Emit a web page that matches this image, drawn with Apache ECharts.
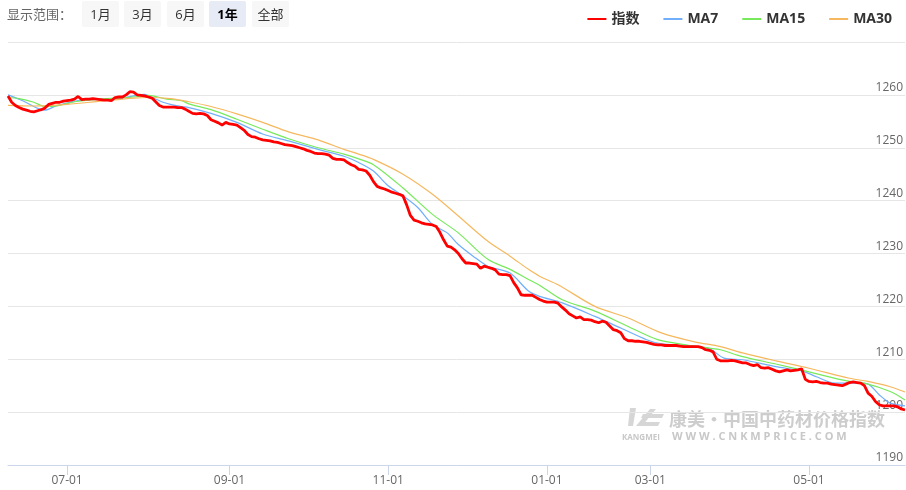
<!DOCTYPE html>
<html>
<head>
<meta charset="utf-8">
<script src="https://cdn.jsdelivr.net/npm/echarts@6/dist/echarts.min.js"></script>
<style>
  html, body { margin: 0; padding: 0; background: #fff; }
  #wrap { position: relative; width: 906px; height: 490px; overflow: hidden; }
  #chart { position: absolute; left: 0; top: 0; width: 906px; height: 490px; }
  #range { position: absolute; left: 0; top: 1px; height: 26px; font-family: "Open Sans", "Noto Sans CJK SC", sans-serif; font-size: 13px; }
  #range .lbl { position: absolute; left: 7px; top: 0; line-height: 26px; color: #666; white-space: nowrap; }
  #range .btn { position: absolute; top: 0; width: 37px; height: 26px; line-height: 26px; text-align: center; background: #f7f7f7; color: #333; border-radius: 2px; }
  #range .btn.on { background: #e6ebf5; font-weight: bold; color: #000; }
</style>
</head>
<body>
<div id="wrap">
  <div id="chart"></div>
  <div id="range">
    <span class="lbl">显示范围：</span>
    <span class="btn" style="left:82px">1月</span>
    <span class="btn" style="left:124px">3月</span>
    <span class="btn" style="left:167px">6月</span>
    <span class="btn on" style="left:209px">1年</span>
    <span class="btn" style="left:252px">全部</span>
  </div>
</div>
<script>
// Publishing days, grouped by month
const months = ['2023-06','2023-07','2023-08','2023-09','2023-10','2023-11','2023-12','2024-01','2024-02','2024-03','2024-04','2024-05','2024-06'];
const monthDays = [
  [8,9,12,13,14,15,16,19,20,21,25,26,27,28,29,30],
  [1,4,5,6,7,10,11,12,13,14,17,18,19,20,21,24,25,26,27,28,31],
  [1,2,3,4,7,8,9,10,11,14,15,16,17,18,21,22,23,24,25,28,29,30,31],
  [1,4,5,6,7,8,11,12,13,14,15,18,19,20,21,22,25,26,27,28,29],
  [2,3,4,5,6,9,10,11,12,13,16,17,18,19,20,23,24,25,26,27,30,31],
  [1,2,3,6,7,8,9,10,13,14,15,16,17,20,21,22,23,24,27,28,29,30],
  [1,4,5,6,7,8,11,12,13,14,15,18,19,20,21,22,25,26,27,28,29],
  [1,3,5,8,10,12,15,17,19,22,24,26,29,31],
  [1,2,5,6,7,8,19,20,21,22,23,26,27,28],
  [1,4,5,6,7,8,11,12,13,14,15,18,19,20,21,22,25,26,27,28,29],
  [1,2,3,4,5,8,9,10,11,12,15,16,17,18,19,22,23,24,25,26,29,30],
  [1,2,3,6,7,8,9,10,13,14,15,16,17,20,21,22,23,24,27,28,29,30,31],
  [3,4,5,6]
];

// Dates that carry an axis label
const tickDates = ['2023-07-01','2023-09-01','2023-11-01','2024-01-01','2024-03-01','2024-05-01'];

// Daily index values
const indexValues = [
  1259.8,1258.6,1258.0,1257.6,1257.3,1257.1,1256.9,1256.8,1257.0,1257.2,
  1257.5,1258.2,1258.4,1258.6,1258.6,1258.8,1258.9,1259.0,1259.2,1259.7,
  1259.1,1259.2,1259.2,1259.3,1259.2,1259.1,1259.0,1259.0,1258.9,1259.5,
  1259.6,1259.6,1260.0,1260.6,1260.5,1260.0,1259.9,1259.8,1259.6,1259.4,
  1258.7,1258.0,1257.7,1257.7,1257.7,1257.7,1257.6,1257.6,1257.3,1256.9,
  1256.5,1256.4,1256.5,1256.4,1256.1,1255.3,1255.0,1254.7,1254.3,1254.8,
  1254.5,1254.4,1254.3,1253.8,1253.3,1252.5,1252.1,1252.0,1251.7,1251.5,
  1251.4,1251.3,1251.1,1251.0,1250.8,1250.6,1250.5,1250.4,1250.2,1250.0,
  1249.8,1249.5,1249.3,1249.0,1248.9,1248.9,1248.8,1248.6,1248.0,1247.8,
  1247.8,1247.7,1247.2,1246.8,1246.5,1245.9,1245.8,1245.6,1244.8,1243.6,
  1242.7,1242.4,1242.2,1241.9,1241.6,1241.4,1241.2,1240.9,1239.2,1237.2,
  1236.3,1236.1,1235.8,1235.6,1235.5,1235.4,1235.1,1234.0,1232.6,1231.4,
  1231.2,1230.7,1230.0,1229.0,1228.2,1228.2,1228.1,1228.0,1227.2,1227.6,
  1227.4,1227.2,1226.9,1226.1,1226.0,1226.0,1225.8,1224.5,1223.5,1222.2,
  1222.1,1222.1,1222.1,1221.7,1221.3,1221.0,1220.8,1220.8,1220.8,1220.6,
  1219.9,1219.3,1218.6,1218.2,1217.8,1218.0,1217.5,1217.5,1217.4,1217.1,
  1216.9,1217.2,1217.0,1216.3,1215.6,1215.4,1215.0,1213.9,1213.5,1213.5,
  1213.4,1213.4,1213.3,1213.2,1213.0,1212.8,1212.7,1212.7,1212.6,1212.6,
  1212.6,1212.6,1212.5,1212.4,1212.4,1212.4,1212.4,1212.4,1212.2,1211.8,
  1211.7,1211.4,1210.0,1209.7,1209.7,1209.7,1209.8,1209.7,1209.5,1209.3,
  1209.3,1209.0,1208.8,1209.0,1208.4,1208.3,1208.4,1208.1,1207.8,1207.6,
  1207.8,1208.0,1207.8,1207.9,1208.0,1208.2,1206.2,1205.8,1205.7,1205.8,
  1205.6,1205.5,1205.5,1205.3,1205.2,1205.1,1205.0,1205.3,1205.6,1205.7,
  1205.6,1205.5,1205.0,1203.6,1203.0,1202.0,1201.4,1201.2,1201.2,1201.2,
  1201.2,1201.0,1200.6,1200.4
];

// Moving averages, sampled as [day index, value]
const ma7Points = [
  [0,1260.0],[4,1258.9],[10,1257.1],[13,1257.9],[19,1258.9],[25,1259.2],[29,1259.2],
  [34,1259.8],[37,1260.1],[39,1259.5],[42,1258.6],[44,1258.2],[47,1257.8],[49,1257.6],
  [55,1256.5],[62,1254.8],[69,1252.6],[76,1251.3],[84,1249.7],[91,1248.4],[95,1247.2],
  [99,1245.6],[103,1242.8],[107,1240.9],[111,1238.7],[115,1235.5],[119,1233.9],[122,1231.7],
  [126,1229.5],[130,1227.6],[136,1226.3],[141,1222.9],[144,1221.9],[150,1220.7],[159,1218.1],
  [166,1215.9],[173,1213.7],[177,1212.9],[184,1212.6],[190,1212.0],[194,1210.2],[199,1209.9],
  [208,1208.6],[215,1207.8],[219,1206.7],[224,1205.5],[230,1205.5],[233,1205.3],[236,1203.3],
  [239,1201.7],[243,1201.2]
];
const ma15Points = [
  [0,1259.5],[3,1259.3],[7,1258.6],[10,1257.8],[13,1257.9],[19,1258.8],[25,1259.2],
  [34,1259.6],[38,1259.9],[43,1259.2],[47,1258.9],[49,1258.3],[55,1257.2],[62,1255.4],
  [69,1253.5],[76,1251.7],[84,1250.0],[91,1248.8],[95,1247.9],[99,1246.8],[107,1242.4],
  [115,1237.4],[122,1233.9],[130,1228.9],[136,1227.0],[141,1225.1],[144,1224.0],[150,1221.3],
  [159,1219.1],[168,1216.2],[176,1213.7],[184,1212.7],[190,1212.1],[193,1211.8],[199,1210.5],
  [208,1209.1],[217,1207.6],[228,1205.8],[232,1205.5],[239,1203.9],[243,1202.3]
];
const ma30Points = [
  [0,1258.0],[7,1257.9],[16,1258.2],[25,1258.8],[34,1259.4],[38,1259.5],[44,1259.3],
  [49,1258.7],[55,1257.8],[62,1256.4],[69,1254.8],[76,1253.0],[84,1251.5],[91,1249.7],
  [95,1248.8],[99,1247.8],[107,1245.0],[115,1241.2],[122,1237.1],[130,1232.3],[136,1229.5],
  [141,1227.0],[144,1225.7],[149,1224.1],[159,1220.0],[168,1217.8],[177,1215.0],[186,1213.3],
  [193,1212.4],[199,1211.2],[208,1209.7],[217,1208.3],[228,1206.4],[233,1205.8],[239,1204.8],
  [243,1203.8]
];

const dates = [];
months.forEach((m, k) => monthDays[k].forEach(d => dates.push(m + '-' + String(d).padStart(2, '0'))));

const FONT = '"Open Sans", "Noto Sans CJK SC", sans-serif';
const isTick = (idx, val) => tickDates.indexOf(val) >= 0;

const chart = echarts.init(document.getElementById('chart'), null, { renderer: 'canvas' });
chart.setOption({
  animation: false,
  backgroundColor: '#fff',
  textStyle: { fontFamily: FONT },
  grid: { left: 8, right: 0, top: 42, bottom: 25 },
  legend: {
    right: 9, top: 7,
    icon: 'rect', itemWidth: 19, itemHeight: 2, itemGap: 24,
    textStyle: { fontFamily: FONT, fontSize: 14, fontWeight: 'bold', color: '#333', padding: [0, 0, 0, 0] },
    data: ['指数', 'MA7', 'MA15', 'MA30']
  },
  xAxis: {
    type: 'category',
    data: dates,
    boundaryGap: false,
    axisLine: { lineStyle: { color: '#ccd6eb' } },
    axisTick: { interval: isTick, length: 10, lineStyle: { color: '#ccd6eb' } },
    axisLabel: {
      interval: isTick, margin: 10, color: '#666', fontSize: 12, fontFamily: FONT,
      formatter: v => v.slice(5)
    },
    splitLine: { show: false }
  },
  yAxis: {
    type: 'value',
    position: 'right',
    min: 1190, max: 1270, interval: 10,
    axisLine: { show: false },
    axisTick: { show: false },
    axisLabel: {
      inside: true, margin: 2, verticalAlign: 'bottom', padding: [0, 0, 1, 0],
      color: '#666', fontSize: 12, fontFamily: FONT,
      formatter: v => (v >= 1270 ? '' : String(v))
    },
    splitLine: { lineStyle: { color: '#e6e6e6', width: 1 } }
  },
  graphic: [
    { type: 'polygon', z: 0, shape: { points: [[630,408],[636,408],[633,426],[628,426]] }, style: { fill: '#d6d6d6' } },
    { type: 'polygon', z: 0, shape: { points: [[636,426],[650,409],[656,409],[642,426]] }, style: { fill: '#d6d6d6' } },
    { type: 'polygon', z: 0, shape: { points: [[643,414],[664,414],[662,418],[641,418]] }, style: { fill: '#d6d6d6' } },
    { type: 'polygon', z: 0, shape: { points: [[642,422],[660,422],[658,426],[640,426]] }, style: { fill: '#d6d6d6' } },
    { type: 'text', z: 0, left: 669, top: 410, style: { text: '康美·中国中药材价格指数', font: 'bold 18px "Noto Sans CJK SC", sans-serif', fill: '#cdcdcd' } },
    { type: 'text', z: 0, left: 622, top: 434, style: { text: 'KANGMEI', font: 'bold 8px "Open Sans", sans-serif', fill: '#c8c8c8' } },
    { type: 'text', z: 0, left: 672, top: 431, style: { text: 'W W W . C N K M P R I C E . C O M', font: 'bold 11px "Open Sans", sans-serif', fill: '#c8c8c8' } }
  ],
  series: [
    { name: 'MA7', type: 'line', data: ma7Points, showSymbol: false, smooth: 0.3, z: 2,
      color: '#71aefc', lineStyle: { width: 1.2, color: '#71aefc' } },
    { name: 'MA15', type: 'line', data: ma15Points, showSymbol: false, smooth: 0.3, z: 2,
      color: '#76ea5c', lineStyle: { width: 1.2, color: '#76ea5c' } },
    { name: 'MA30', type: 'line', data: ma30Points, showSymbol: false, smooth: 0.3, z: 2,
      color: '#f6b85e', lineStyle: { width: 1.2, color: '#f6b85e' } },
    { name: '指数', type: 'line', data: indexValues, showSymbol: false, z: 3,
      color: '#ff0000', lineStyle: { width: 2.8, color: '#ff0000' } }
  ]
});
</script>
</body>
</html>
